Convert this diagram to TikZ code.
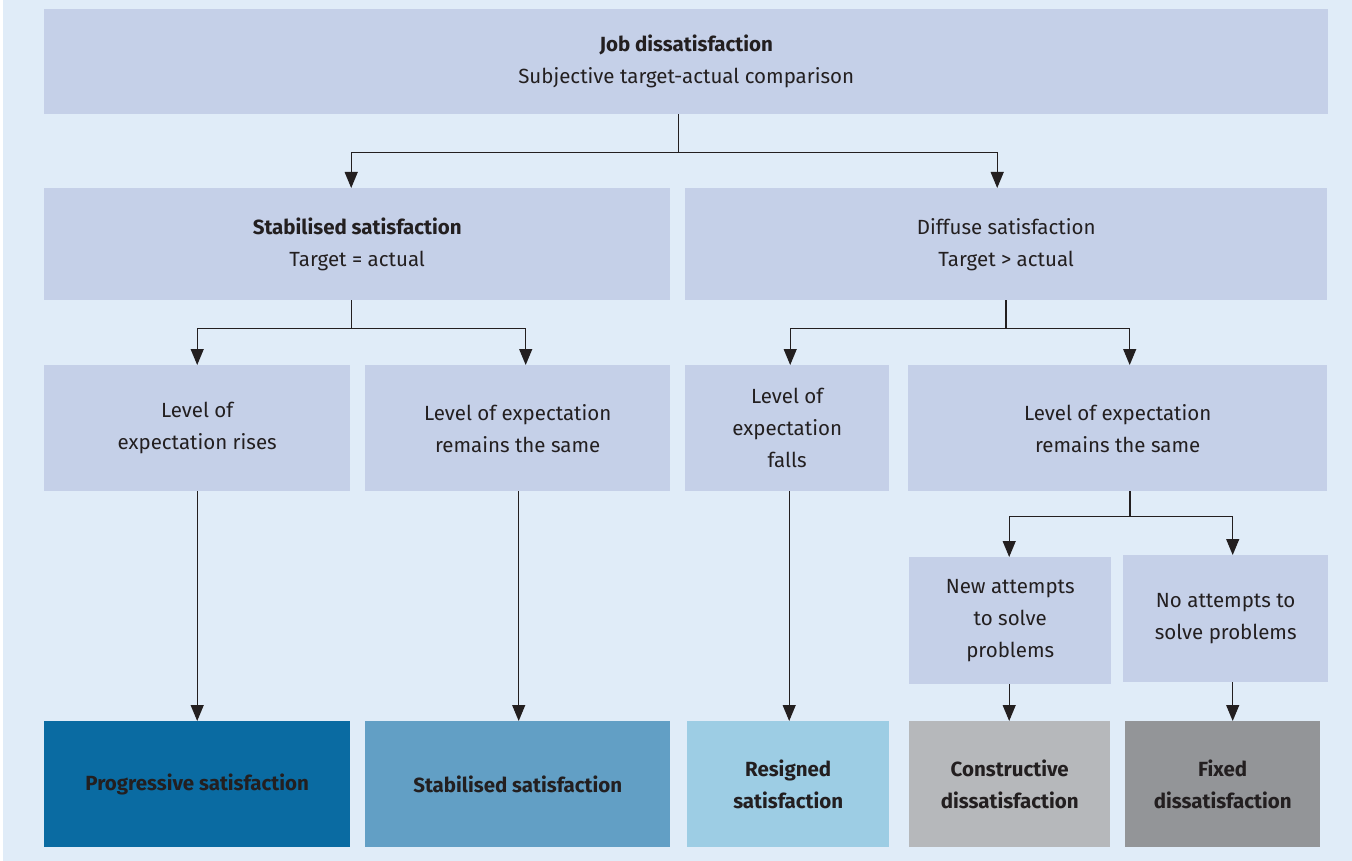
\documentclass[tikz,border=0pt]{standalone}
\usepackage{fontspec}
\setmainfont{Fira Sans}
\usetikzlibrary{arrows.meta}

\definecolor{bgblue}{HTML}{E0ECF8}
\definecolor{boxblue}{HTML}{C5D0E8}
\definecolor{darkblue}{HTML}{0A6BA2}
\definecolor{midblue}{HTML}{629FC5}
\definecolor{paleblue}{HTML}{9DCDE4}
\definecolor{lightgrey}{HTML}{B6B8BB}
\definecolor{darkgrey}{HTML}{939598}
\definecolor{ink}{HTML}{231F20}

\begin{document}
\begin{tikzpicture}[
  x=1pt, y=-1pt,
  box/.style={fill=boxblue, inner sep=0pt, anchor=north west, align=center,
    text=ink, font=\fontsize{20.5}{32}\selectfont},
  result/.style={box, font=\fontsize{20.5}{32}\selectfont\bfseries},
  line/.style={draw=ink, line width=1.2pt},
  stem/.style={draw=ink, line width=2.4pt},
  arrow/.style={line, -{Triangle[length=16pt, width=13pt]}},
]

\useasboundingbox (0,0) rectangle (1352,861);
\fill[white] (0,0) rectangle (1352,861);
\fill[bgblue] (3,0) rectangle (1352,861);

% === TOP ===
\node[box, minimum width=1284pt, minimum height=105pt] (job) at (44,9)
  {\textbf{Job dissatisfaction}\\Subjective target-actual comparison};

% === SECOND ROW ===
\node[box, minimum width=626pt, minimum height=112pt] (stab) at (44,188)
  {\textbf{Stabilised satisfaction}\\Target = actual};
\node[box, minimum width=642pt, minimum height=112pt] (diff) at (685,188)
  {Diffuse satisfaction\\Target > actual};

% === THIRD ROW ===
\node[box, minimum width=306pt, minimum height=126pt] (rises) at (44,365)
  {Level of\\expectation rises};
\node[box, minimum width=305pt, minimum height=126pt] (same) at (365,365)
  {Level of expectation\\remains the same};
\node[box, minimum width=204pt, minimum height=126pt] (falls) at (685,365)
  {Level of\\expectation\\falls};
\node[box, minimum width=419pt, minimum height=126pt] (samedis) at (908,365)
  {Level of expectation\\remains the same};

% === FOURTH ROW ===
\node[box, minimum width=202pt, minimum height=127pt] (newtry) at (909,557)
  {New attempts\\to solve\\problems};
\node[box, minimum width=205pt, minimum height=127pt] (notry) at (1123,555)
  {No attempts to\\solve problems};

% === RESULTS ===
\node[result, fill=darkblue, minimum width=306pt, minimum height=126pt] (progr) at (44,721)
  {Progressive satisfaction};
\node[result, fill=midblue, minimum width=305pt, minimum height=126pt] (stabres) at (365,721)
  {Stabilised satisfaction};
\node[result, fill=paleblue, minimum width=202pt, minimum height=126pt] (resig) at (687,721)
  {Resigned\\satisfaction};
\node[result, fill=lightgrey, minimum width=201pt, minimum height=126pt] (constr) at (909,721)
  {Constructive\\dissatisfaction};
\node[result, fill=darkgrey, minimum width=195pt, minimum height=126pt] (fixed) at (1125,721)
  {Fixed\\dissatisfaction};

% === CONNECTORS ===
\draw[line] ([xshift=-8pt]job.south) -- ++(0,38) coordinate (j1);
\draw[arrow] (j1) -| ([xshift=-6pt]stab.north);
\draw[arrow] (j1) -| ([xshift=-9pt]diff.north);

\draw[line] ([xshift=-6pt]stab.south) -- ++(0,28) coordinate (j2);
\draw[arrow] (j2) -| (rises.north);
\draw[arrow] (j2) -| ([xshift=8pt]same.north);

\draw[stem] (diff.south) -- ++(0,28) coordinate (j3);
\draw[arrow] (j3) -| ([xshift=3pt]falls.north);
\draw[arrow] (j3) -| ([xshift=12pt]samedis.north);

\draw[arrow] (rises.south) -- (progr.north);
\draw[arrow] ([xshift=1pt]same.south) -- ([xshift=1pt]stabres.north);
\draw[arrow] ([xshift=2pt]falls.south) -- ([xshift=2pt]falls.south |- resig.north);

\draw[stem] ([xshift=12pt]samedis.south) -- ++(0,25) coordinate (j4);
\draw[arrow] (j4) -| ([xshift=-1pt]newtry.north);
\draw[arrow] (j4) -| ([xshift=7pt]notry.north);

\draw[arrow] ([xshift=-1pt]newtry.south) -- ([xshift=-1pt]newtry.south |- constr.north);
\draw[arrow] ([xshift=7pt]notry.south) -- ([xshift=7pt]notry.south |- fixed.north);
\end{tikzpicture}
\end{document}
